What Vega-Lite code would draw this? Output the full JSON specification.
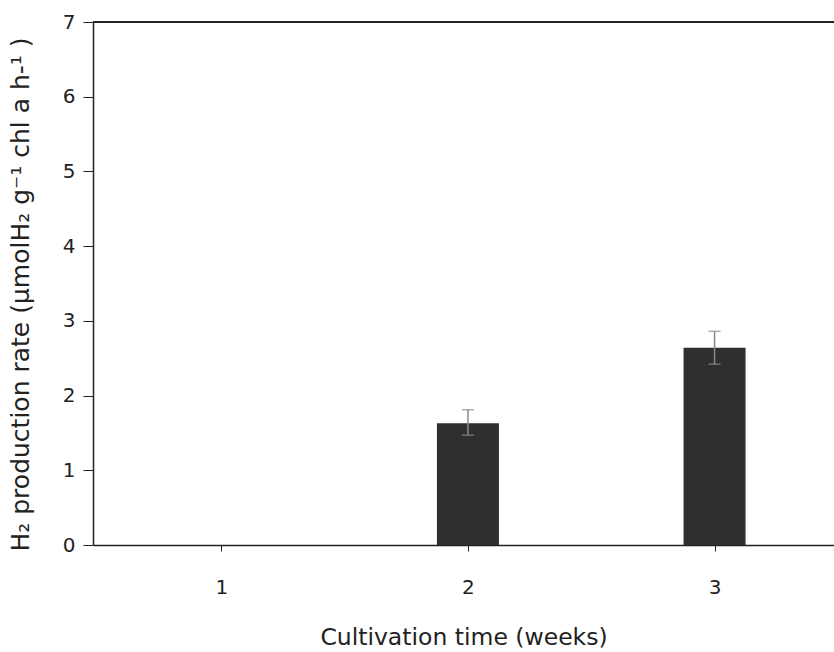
{
  "$schema": "https://vega.github.io/schema/vega-lite/v6.json",
  "autosize": "none",
  "width": 741,
  "height": 523,
  "padding": {"left": 93, "top": 22, "right": 0, "bottom": 107},
  "background": "white",
  "config": {
    "view": {"stroke": null},
    "font": "DejaVu Sans",
    "axis": {"labelFont": "DejaVu Sans", "titleFont": "DejaVu Sans", "labelColor": "#222", "titleColor": "#222", "domainColor": "#222", "tickColor": "#222", "grid": false, "titleFontWeight": "normal"}
  },
  "data": {
    "values": [
      {"week": 1, "rate": 0, "lo": null, "hi": null},
      {"week": 2, "rate": 1.63, "lo": 1.47, "hi": 1.81},
      {"week": 3, "rate": 2.64, "lo": 2.42, "hi": 2.86}
    ]
  },
  "layer": [
    {
      "mark": {"type": "bar", "size": 62, "color": "#2f2f2f"},
      "encoding": {
        "x": {"field": "week", "type": "quantitative",
          "scale": {"domain": [0.5, 3.464], "nice": false, "zero": false},
          "axis": {"values": [1, 2, 3], "format": "d", "title": "Cultivation time (weeks)", "labelFontSize": 20, "titleFontSize": 23.5, "tickSize": 6, "labelPadding": 26, "titlePadding": 28, "domainWidth": 1.5}},
        "y": {"field": "rate", "type": "quantitative",
          "scale": {"domain": [0, 7], "nice": false},
          "axis": {"values": [0, 1, 2, 3, 4, 5, 6, 7], "format": "d", "title": "H₂ production rate (μmolH₂ g⁻¹ chl a h-¹ )", "labelFontSize": 20, "titleFontSize": 25, "titleY": 272, "tickSize": 10, "labelPadding": 8, "titlePadding": 29, "domainWidth": 1.5}}
      }
    },
    {
      "mark": {"type": "rule", "color": "#8a8a8a", "strokeWidth": 1.5},
      "encoding": {
        "x": {"field": "week", "type": "quantitative"},
        "y": {"field": "lo", "type": "quantitative"},
        "y2": {"field": "hi"}
      }
    },
    {
      "mark": {"type": "tick", "orient": "horizontal", "color": "#8a8a8a", "size": 12, "thickness": 1.5},
      "encoding": {
        "x": {"field": "week", "type": "quantitative"},
        "y": {"field": "lo", "type": "quantitative"}
      }
    },
    {
      "mark": {"type": "tick", "orient": "horizontal", "color": "#8a8a8a", "size": 12, "thickness": 1.5},
      "encoding": {
        "x": {"field": "week", "type": "quantitative"},
        "y": {"field": "hi", "type": "quantitative"}
      }
    },
    {
      "mark": {"type": "rule", "color": "#222", "strokeWidth": 1.5},
      "encoding": {"y": {"datum": 7}}
    }
  ]
}
